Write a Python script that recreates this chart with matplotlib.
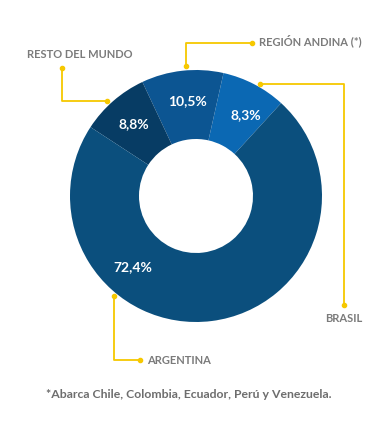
import matplotlib.pyplot as plt
import numpy as np

# data
regions = ["BRASIL", "REGIÓN ANDINA (*)", "RESTO DEL MUNDO", "ARGENTINA"]
shares = [8.3, 10.5, 8.8, 72.4]
pct_labels = ["8,3%", "10,5%", "8,8%", "72,4%"]
colors = ["#0b68b3", "#0c5592", "#073c64", "#0b4f7d"]
footnote = "*Abarca Chile, Colombia, Ecuador, Perú y Venezuela."

YELLOW = "#f6c800"
GREY = "#7b7b7b"
FONT = "Lato"

fig = plt.figure(figsize=(3.9, 4.4), dpi=100)
ax = fig.add_axes([0, 0, 1, 1])

# pixel-like coordinates, y up (440 - image y)
cx, cy, r_out, r_in = 196, 244, 126, 57

wedges, _ = ax.pie(shares, colors=colors, startangle=47.5, counterclock=True,
                   center=(cx, cy), radius=r_out, frame=True,
                   wedgeprops=dict(width=r_out - r_in, linewidth=0))

# percentage labels: angle offset from wedge middle
lab_shift = [-4, -1, 0, -49]
lab_dist = 95
for w, txt, sh in zip(wedges, pct_labels, lab_shift):
    ang = np.deg2rad((w.theta1 + w.theta2) / 2 + sh)
    ax.text(cx + lab_dist * np.cos(ang), cy + lab_dist * np.sin(ang), txt,
            ha="center", va="center", color="white", fontsize=10,
            fontweight="bold", family=FONT)

# callouts (image coords converted y -> 440 - y)
def callout(pts, label, tx, ty, ha):
    xs = [p[0] for p in pts]
    ys = [440 - p[1] for p in pts]
    ax.plot(xs, ys, color=YELLOW, lw=1.3, solid_capstyle="butt", zorder=3)
    ax.plot([xs[0], xs[-1]], [ys[0], ys[-1]], "o", color=YELLOW, ms=3, zorder=3)
    ax.text(tx, 440 - ty, label, ha=ha, va="center", color=GREY,
            fontsize=8, fontweight="bold", family=FONT)

callout([(62, 68), (62, 101), (107, 101)], regions[2], 27, 54, "left")
callout([(186, 66), (186, 43), (252, 43)], regions[1], 259, 41, "left")
callout([(260, 84), (344, 84), (344, 305)], regions[0], 344, 318, "center")
callout([(114, 296), (114, 360), (140, 360)], regions[3], 147, 360, "left")

ax.text(189, 440 - 395, footnote, ha="center", va="center", color="#6d6d6d",
        fontsize=8.8, fontweight="bold", family=FONT)

ax.set_xlim(0, 390)
ax.set_ylim(0, 440)
ax.set_aspect("equal")
ax.axis("off")

plt.savefig("out.png", dpi=100, facecolor="white")
